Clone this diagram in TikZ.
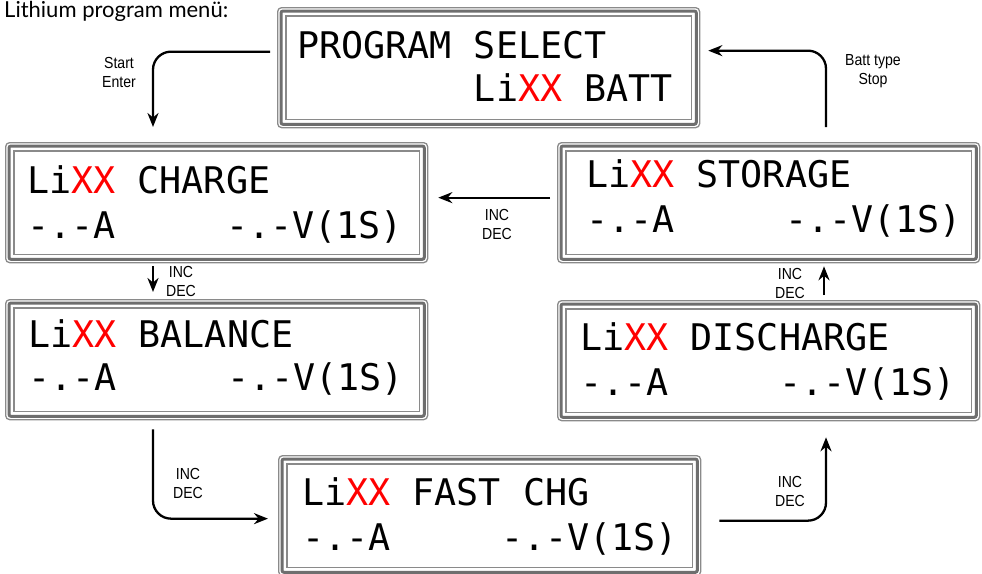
\documentclass[tikz,border=0pt]{standalone}
\usepackage{fontspec}
\usepackage{tikz}
\usetikzlibrary{arrows.meta, positioning}

\newfontfamily\lcdfont{DejaVu Sans Mono}
\newfontfamily\tagfont[FakeStretch=0.88]{Liberation Sans}
\newfontfamily\headfont{Lato}
\definecolor{frameline}{HTML}{8A8A8A}
\definecolor{frameband}{HTML}{6E6E6E}
\newcommand\xx{\textcolor{red}{XX}}

% the three grey rims of a display
\newcommand\lcdrims[1]{%
  \draw[rimband] ([xshift=4pt,yshift=-4pt]#1.north west) rectangle ([xshift=-4pt,yshift=4pt]#1.south east);
  \draw[riminner] ([xshift=9pt,yshift=-9pt]#1.north west) rectangle ([xshift=-9pt,yshift=9pt]#1.south east);}

\begin{document}
\begin{tikzpicture}[x=1pt, y=-1pt,
    lcd/.style={rectangle, draw=frameline, line width=1.3pt, rounded corners=4pt, anchor=north west,
        minimum width=422pt, minimum height=120pt, inner sep=0pt, fill=white},
    rimband/.style={draw=frameband, line width=3pt, rounded corners=2pt},
    riminner/.style={draw=frameline, line width=1.2pt},
    lcdtext/.style={anchor=base west, inner sep=0pt, font=\lcdfont\fontsize{36.7}{44}\selectfont},
    tag/.style={align=center, inner sep=0pt, font=\tagfont\fontsize{16}{19}\selectfont},
    flow/.style={-{Stealth[length=14pt,width=11pt]}, line width=2.3pt, rounded corners=18pt}
]
    \useasboundingbox (0,0) rectangle (982,573);

    \node[anchor=base west, inner sep=0pt, font=\headfont\fontsize{22}{26}\selectfont] (title) at (4,17.5) {Lithium program menü:};

    % Displays
    \node[lcd] (prog) at (277,7) {};
    \node[lcd] (charge) at (5,142) {};
    \node[lcd] (balance) at (5,299) {};
    \node[lcd] (fast) at (278,455) {};
    \node[lcd] (storage) at (557,142) {};
    \node[lcd] (discharge) at (557,300) {};
    \foreach \d in {prog, charge, balance, fast, storage, discharge} {\lcdrims{\d}}

    \node[lcdtext] (prog1) at ([xshift=20pt,yshift=-51pt]prog.north west) {PROGRAM SELECT};
    \node[lcdtext] (prog2) at ([xshift=20pt,yshift=-94pt]prog.north west) {\hphantom{00000000}Li\xx{} BATT};

    \node[lcdtext] (charge1) at ([xshift=22pt,yshift=-51pt]charge.north west) {Li\xx{} CHARGE};
    \node[lcdtext] (charge2) at ([xshift=22pt,yshift=-96pt]charge.north west) {-.-A\hphantom{00000}-.-V(1S)};

    \node[lcdtext] (balance1) at ([xshift=23pt,yshift=-48pt]balance.north west) {Li\xx{} BALANCE};
    \node[lcdtext] (balance2) at ([xshift=23pt,yshift=-91pt]balance.north west) {-.-A\hphantom{00000}-.-V(1S)};

    \node[lcdtext] (fast1) at ([xshift=24pt,yshift=-50pt]fast.north west) {Li\xx{} FAST CHG};
    \node[lcdtext] (fast2) at ([xshift=24pt,yshift=-95pt]fast.north west) {-.-A\hphantom{00000}-.-V(1S)};

    \node[lcdtext] (storage1) at ([xshift=29pt,yshift=-45pt]storage.north west) {Li\xx{} STORAGE};
    \node[lcdtext] (storage2) at ([xshift=29pt,yshift=-90pt]storage.north west) {-.-A\hphantom{00000}-.-V(1S)};

    \node[lcdtext] (discharge1) at ([xshift=23pt,yshift=-50pt]discharge.north west) {Li\xx{} DISCHARGE};
    \node[lcdtext] (discharge2) at ([xshift=23pt,yshift=-95pt]discharge.north west) {-.-A\hphantom{00000}-.-V(1S)};

    % Key presses
    \draw[flow] ([xshift=-7pt,yshift=16pt]prog.west) -| ([xshift=148pt,yshift=15pt]charge.north west);
    \node[tag] (start) at (119,72) {Start\\Enter};

    \draw[flow] ([xshift=269pt,yshift=15pt]storage.north west) |- ([xshift=8pt,yshift=17pt]prog.east);
    \node[tag] (batt) at (873,71) {Batt type\\Stop};

    \draw[flow] ([xshift=-7pt,yshift=5pt]storage.west) -- ([xshift=10pt,yshift=5pt]charge.east);
    \node[tag] (inc1) at (497,224) {INC\\DEC};

    \draw[flow] ([xshift=148pt,yshift=-3pt]charge.south west) -- ([xshift=148pt,yshift=7pt]balance.north west);
    \node[tag] (inc2) at (181,281) {INC\\DEC};

    \draw[flow] ([xshift=148pt,yshift=-9pt]balance.south west) |- ([xshift=-10pt,yshift=-3pt]fast.west);
    \node[tag] (inc3) at (188,483) {INC\\DEC};

    \draw[flow] ([xshift=18pt,yshift=-5pt]fast.east) -| ([xshift=269pt,yshift=-16pt]discharge.south west);
    \node[tag] (inc4) at (790,491) {INC\\DEC};

    \draw[flow] ([xshift=267pt,yshift=5pt]discharge.north west) -- ([xshift=267pt,yshift=-3pt]storage.south west);
    \node[tag] (inc5) at (790,283) {INC\\DEC};
\end{tikzpicture}
\end{document}
